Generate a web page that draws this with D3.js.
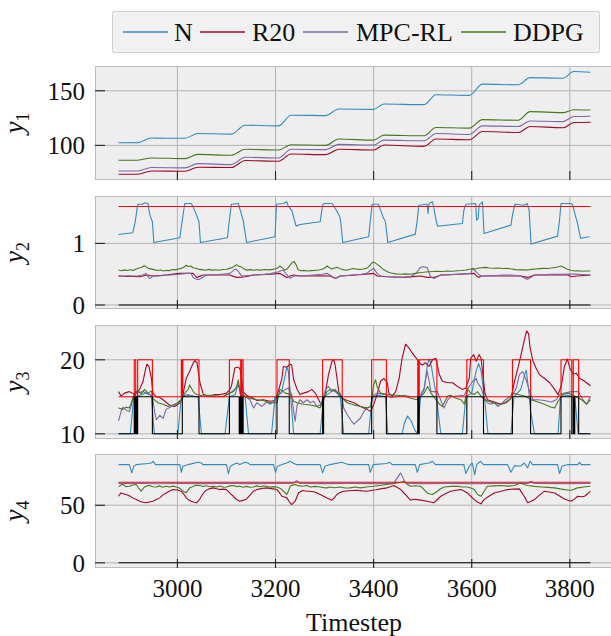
<!DOCTYPE html>
<html>
<head>
<meta charset="utf-8">
<script src="https://cdn.jsdelivr.net/npm/d3@7"></script>
<style>
body { margin: 0; background: #fff; }
svg { display: block; font-family: "Liberation Serif", "DejaVu Serif", serif; }
</style>
</head>
<body>
<svg width="611" height="636"></svg>
<script>
// ---------------- data ----------------
var legendNames = ["N", "R20", "MPC-RL", "DDPG"];
var xTicks = [3000, 3200, 3400, 3600, 3800];
var tStart = 2880, tEnd = 3842;

// y1: staircase breakpoints shared by all series
var y1T = [2880, 2919, 2947, 3015, 3042, 3110, 3138, 3206, 3232, 3302, 3329, 3400, 3421, 3503, 3527, 3595, 3622, 3695, 3719, 3786, 3808, 3842];
var y1N = [102.4, 102.5, 106.7, 106.5, 110.9, 110.3, 118.5, 117.9, 127.6, 127.3, 133.3, 133, 137.9, 137.3, 146.4, 145.8, 156.1, 155.5, 162.1, 161.5, 167.6, 167];
var y1R20 = [73.6, 73.6, 76.6, 76.3, 80, 79.7, 86.1, 85.5, 92.1, 91.5, 96.4, 95.8, 100.3, 99.1, 105.8, 105.2, 112.7, 111.8, 117.3, 116.1, 120.9, 121.2];
var y1MPC = [76.6, 76.6, 79.7, 79.4, 83.3, 82.4, 89.1, 88.5, 96.4, 96.1, 100.9, 100.3, 104.8, 104.2, 110.9, 110, 117.9, 117.3, 122.4, 121.8, 126.4, 126.7];
var y1DDPG = [86.4, 86.4, 88.5, 87.9, 91.8, 90.9, 96.4, 95.8, 100.6, 100, 105.8, 104.8, 109.4, 108.8, 116.4, 115.8, 123.6, 123, 130.9, 130, 132.7, 132.4];

// y2
var y2N = [[2880,1.146],[2909,1.172],[2914,1.351],[2919,1.637],[2929,1.637],[2933,1.659],[2940,1.648],[2942,1.540],[2944,1.459],[2949,1.351],[2952,1.016],[3005,1.091],[3008,1.270],[3015,1.648],[3028,1.648],[3032,1.594],[3039,1.459],[3044,1.351],[3047,1.016],[3102,1.091],[3105,1.324],[3110,1.637],[3124,1.648],[3127,1.567],[3134,1.378],[3141,1.016],[3199,1.108],[3202,1.637],[3216,1.648],[3223,1.675],[3226,1.605],[3233,1.540],[3242,1.280],[3250,1.307],[3291,1.351],[3296,1.621],[3299,1.648],[3315,1.648],[3318,1.621],[3324,1.540],[3331,1.432],[3333,1.351],[3337,1.016],[3390,1.108],[3393,1.351],[3397,1.637],[3410,1.637],[3414,1.540],[3419,1.432],[3424,1.351],[3429,1.016],[3485,1.151],[3489,1.378],[3492,1.621],[3509,1.637],[3511,1.486],[3513,1.648],[3520,1.675],[3523,1.567],[3526,1.432],[3530,1.280],[3581,1.324],[3584,1.540],[3588,1.637],[3608,1.648],[3610,1.378],[3613,1.400],[3615,1.621],[3622,1.675],[3625,1.162],[3680,1.297],[3683,1.459],[3688,1.637],[3707,1.621],[3713,1.648],[3717,1.540],[3721,0.989],[3775,1.118],[3779,1.378],[3782,1.648],[3803,1.648],[3806,1.621],[3811,1.459],[3815,1.351],[3822,1.081],[3827,1.091],[3840,1.108]];
var y2R20 = [[2880,.470],[2895,.465],[2910,.462],[2923,.459],[2930,.472],[2936,.486],[2943,.478],[2950,.470],[2965,.480],[2980,.490],[2995,.505],[3005,.513],[3018,.515],[3032,.513],[3036,.475],[3039,.448],[3045,.465],[3052,.486],[3070,.488],[3090,.486],[3107,.486],[3114,.465],[3121,.448],[3130,.452],[3138,.459],[3146,.470],[3155,.486],[3170,.492],[3190,.500],[3209,.513],[3216,.480],[3223,.448],[3230,.470],[3237,.486],[3250,.470],[3270,.472],[3290,.475],[3311,.470],[3317,.450],[3322,.432],[3332,.470],[3350,.480],[3370,.490],[3390,.505],[3400,.513],[3407,.470],[3428,.459],[3445,.455],[3462,.448],[3480,.460],[3496,.470],[3509,.448],[3523,.448],[3537,.486],[3555,.492],[3575,.500],[3595,.508],[3605,.513],[3610,.470],[3615,.448],[3619,.470],[3640,.472],[3660,.472],[3680,.470],[3700,.470],[3714,.448],[3728,.486],[3750,.488],[3775,.490],[3796,.486],[3803,.459],[3815,.470],[3830,.480],[3842,.486]];
var y2MPC = [[2880,.470],[2890,.468],[2900,.474],[2910,.470],[2920,.476],[2929,.486],[2936,.513],[2940,.470],[2943,.432],[2947,.445],[2950,.470],[2960,.472],[2972,.478],[2985,.486],[2998,.495],[3010,.505],[3018,.513],[3028,.513],[3032,.448],[3038,.420],[3045,.416],[3052,.450],[3059,.486],[3070,.490],[3085,.495],[3100,.505],[3107,.513],[3112,.545],[3116,.575],[3120,.580],[3124,.545],[3131,.470],[3145,.480],[3160,.490],[3175,.498],[3190,.510],[3206,.540],[3212,.560],[3216,.567],[3222,.500],[3230,.432],[3237,.470],[3250,.470],[3265,.480],[3280,.490],[3295,.500],[3305,.513],[3311,.486],[3318,.450],[3322,.432],[3332,.470],[3345,.480],[3360,.490],[3375,.500],[3386,.513],[3393,.560],[3400,.594],[3407,.513],[3414,.470],[3425,.462],[3436,.455],[3448,.448],[3462,.452],[3475,.459],[3487,.520],[3494,.600],[3499,.622],[3509,.611],[3516,.459],[3523,.432],[3530,.460],[3537,.486],[3550,.492],[3565,.498],[3580,.505],[3592,.510],[3598,.513],[3601,.594],[3606,.560],[3612,.513],[3619,.470],[3632,.475],[3648,.480],[3665,.485],[3680,.488],[3690,.478],[3700,.470],[3707,.440],[3714,.416],[3721,.450],[3728,.486],[3745,.492],[3762,.498],[3780,.500],[3796,.502],[3810,.502],[3825,.495],[3842,.486]];
var y2DDPG = [[2880,.567],[2886,.556],[2892,.570],[2898,.560],[2904,.572],[2910,.562],[2916,.585],[2922,.600],[2927,.612],[2932,.640],[2937,.615],[2942,.590],[2948,.582],[2954,.570],[2960,.560],[2966,.568],[2972,.552],[2978,.563],[2984,.558],[2990,.575],[2996,.570],[3002,.585],[3008,.595],[3013,.612],[3018,.645],[3022,.625],[3027,.632],[3032,.605],[3038,.598],[3044,.578],[3050,.575],[3057,.565],[3064,.578],[3071,.566],[3078,.572],[3085,.565],[3092,.576],[3100,.580],[3106,.595],[3112,.610],[3118,.640],[3121,.652],[3125,.628],[3130,.620],[3135,.590],[3141,.567],[3148,.575],[3155,.565],[3162,.573],[3170,.567],[3178,.576],[3186,.570],[3194,.578],[3201,.590],[3206,.612],[3209,.633],[3214,.602],[3219,.570],[3224,.590],[3229,.640],[3234,.690],[3238,.708],[3242,.655],[3246,.572],[3252,.555],[3258,.562],[3265,.552],[3272,.558],[3280,.562],[3288,.568],[3295,.580],[3300,.600],[3305,.633],[3310,.605],[3315,.585],[3320,.600],[3326,.611],[3332,.588],[3340,.570],[3346,.567],[3352,.580],[3359,.594],[3366,.580],[3373,.578],[3380,.585],[3387,.600],[3393,.650],[3398,.695],[3403,.685],[3408,.655],[3414,.620],[3420,.575],[3428,.540],[3436,.520],[3445,.505],[3455,.500],[3465,.505],[3475,.500],[3483,.512],[3490,.522],[3498,.528],[3506,.536],[3514,.540],[3522,.545],[3530,.548],[3540,.545],[3550,.552],[3560,.548],[3571,.555],[3580,.560],[3588,.568],[3596,.580],[3602,.594],[3608,.585],[3614,.600],[3620,.605],[3628,.611],[3636,.600],[3645,.596],[3655,.600],[3665,.592],[3673,.594],[3682,.585],[3690,.575],[3698,.570],[3706,.572],[3714,.567],[3722,.578],[3730,.585],[3738,.590],[3746,.594],[3754,.592],[3762,.600],[3770,.610],[3777,.620],[3782,.633],[3788,.610],[3795,.580],[3802,.565],[3810,.551],[3818,.556],[3826,.548],[3834,.553],[3842,.551]];
var y2Upper = 1.6, y2Lower = 0;

// y3
var y3N = [[2880,10],[2904,10],[2911,15],[2925,15.2],[2935,15.5],[2945,15.3],[2947,15],[2953,10],[3001,10],[3008,15],[3020,15.3],[3035,15],[3042,15],[3049,10],[3097,10],[3106,15],[3118,15.3],[3124,16.9],[3128,15.3],[3138,15],[3145,10],[3192,10],[3199,15],[3212,15.5],[3220,18],[3223,19],[3226,18.5],[3231,15],[3237,10],[3291,10],[3298,15],[3310,15.5],[3318,16],[3325,15.5],[3332,15],[3339,10],[3390,10],[3397,15],[3410,15.2],[3424,15],[3429,10],[3458,10],[3463,11.5],[3469,12.4],[3476,11.8],[3484,10.5],[3489,10],[3496,15],[3503,16],[3510,19.5],[3514,20.1],[3518,19],[3523,17],[3527,15.5],[3537,10],[3581,10],[3588,15],[3600,15.5],[3609,18.5],[3614,19.5],[3619,18.5],[3626,15],[3633,10],[3680,10],[3686,15],[3700,16],[3708,18],[3711,18.6],[3716,16],[3720,13],[3728,10],[3776,10],[3781,15],[3795,15.2],[3810,15],[3817,10],[3842,10]];
var y3R20 = [[2880,15.7],[2885,15.1],[2892,15.5],[2902,15.7],[2913,15.3],[2923,16],[2930,17.1],[2935,18.7],[2938,19.4],[2942,19.1],[2947,17.5],[2950,15.5],[2957,15],[2964,14.9],[2971,14.6],[2978,14.2],[2984,13.9],[2994,13.7],[3000,13.9],[3005,14.2],[3010,14.8],[3014,16.2],[3018,17.5],[3024,18.3],[3029,19.1],[3035,19.9],[3040,19.6],[3043,18.2],[3046,16.9],[3053,15.3],[3060,15.2],[3066,15.1],[3076,15.3],[3087,15.3],[3094,15.4],[3100,15.5],[3106,15.9],[3110,16.4],[3114,17.8],[3117,18.9],[3121,19],[3124,19],[3127,18.8],[3129,18.4],[3134,15.7],[3141,15.2],[3148,15],[3155,14.8],[3162,14.5],[3175,14.6],[3189,14.4],[3199,14.5],[3206,15.8],[3213,17.5],[3216,19.1],[3223,19],[3230,19.4],[3233,19.3],[3237,17.3],[3244,16],[3250,15.3],[3257,15.5],[3267,15.7],[3274,16],[3281,15.5],[3288,14.6],[3295,13.7],[3302,15.7],[3308,18],[3315,19.8],[3319,20],[3322,19.1],[3329,15.7],[3336,14.8],[3346,14.5],[3360,14.2],[3373,13.7],[3387,13.3],[3394,13],[3400,13.9],[3407,15.3],[3414,17.1],[3421,17.5],[3428,16.9],[3431,15.5],[3438,15.1],[3445,15.7],[3452,17.5],[3458,20.2],[3465,22.1],[3472,21.6],[3479,20.9],[3486,20.3],[3493,19.6],[3499,19.3],[3506,19.6],[3513,19.1],[3520,20],[3527,20.2],[3534,18],[3540,17.1],[3551,16.9],[3561,16.9],[3571,16.4],[3581,16],[3588,16.2],[3595,17.5],[3598,20.2],[3604,20.7],[3609,19.8],[3615,20.7],[3619,20.2],[3622,18.4],[3627,15.5],[3632,14.6],[3646,14.3],[3660,14],[3670,14.2],[3680,14.8],[3688,17.3],[3695,19.1],[3702,21.1],[3708,22.9],[3712,23.9],[3716,23.5],[3719,21.6],[3725,19.8],[3731,18.9],[3738,18],[3748,17.5],[3759,16.9],[3769,16],[3776,15.3],[3783,16.6],[3789,19.1],[3795,20.1],[3800,18.9],[3807,18],[3813,18.2],[3820,17.5],[3830,17.1],[3842,16.5]];
var y3MPC = [[2880,11.7],[2885,13],[2889,13.6],[2896,13.2],[2902,13],[2906,13.8],[2909,15],[2916,15.5],[2930,15.7],[2943,15.3],[2949,15],[2954,12.8],[2957,11.9],[2964,12.5],[2971,12.1],[2977,13.3],[2988,13.7],[2998,14],[3008,14.6],[3012,15],[3025,15.2],[3039,15],[3053,15.1],[3066,15],[3093,15],[3107,15.5],[3117,16],[3124,16.5],[3131,15.8],[3134,15.3],[3148,14.6],[3155,13.5],[3162,14.2],[3172,13.7],[3182,14.3],[3189,14],[3199,14.5],[3203,15],[3213,15.7],[3226,16.2],[3233,15.3],[3237,13],[3240,11.7],[3244,13.9],[3250,14.6],[3257,14.2],[3264,14.6],[3271,14.2],[3278,14.4],[3284,13.7],[3291,13.9],[3297,14.8],[3302,16],[3308,16.4],[3315,15.7],[3322,16],[3329,15.3],[3336,14.8],[3339,13.5],[3346,12.6],[3353,11.9],[3360,11.3],[3366,11.7],[3373,12.1],[3380,13],[3387,13.5],[3394,13.7],[3397,14.6],[3400,15.2],[3407,15.5],[3424,15.3],[3435,14.9],[3448,15],[3462,15.2],[3476,15],[3489,15],[3496,15.3],[3503,16.2],[3509,18.5],[3513,17.2],[3517,15.7],[3530,15.7],[3534,15],[3540,14],[3544,13.5],[3551,14.6],[3557,15],[3571,15.1],[3585,15.2],[3588,15.7],[3595,16.4],[3602,17.1],[3609,17.5],[3612,16.9],[3619,16.2],[3626,14.8],[3632,14.2],[3639,14],[3646,14.2],[3653,13.7],[3660,14],[3667,14.5],[3677,15],[3684,15.3],[3691,16.2],[3697,18],[3704,18.4],[3711,17.3],[3718,15.7],[3725,14.6],[3735,14.6],[3748,14.5],[3762,14.3],[3772,14.6],[3779,15.3],[3789,15.5],[3803,15.7],[3817,15.7],[3827,14.6],[3834,14],[3842,15]];
var y3DDPG = [[2880,13.5],[2889,13.3],[2895,13.6],[2902,13.5],[2908,14.5],[2913,15.5],[2919,15.9],[2926,15.4],[2933,16],[2940,15.5],[2947,15.8],[2950,14.8],[2960,14.2],[2971,14],[2981,13.7],[2991,13.9],[3001,14.2],[3008,14.6],[3015,15.5],[3022,16],[3025,16.6],[3032,15.7],[3039,15.3],[3053,15.1],[3066,15.2],[3080,15.1],[3093,15],[3107,15.5],[3114,15.7],[3121,16.4],[3124,17.3],[3128,15.7],[3134,15.1],[3148,14.8],[3162,14.6],[3175,14.5],[3189,14.2],[3203,14.2],[3206,15.1],[3209,16],[3220,15.5],[3230,15.3],[3237,14.4],[3244,14.2],[3257,14],[3271,13.9],[3284,13.7],[3291,13.5],[3298,14.8],[3305,15.7],[3312,16],[3322,15.7],[3329,15.5],[3336,14.8],[3346,14.2],[3360,13.9],[3373,13.7],[3387,13.5],[3394,13.7],[3397,15.1],[3400,16.6],[3404,17.3],[3407,16.4],[3414,15.5],[3428,15.3],[3448,15.2],[3462,15.1],[3476,14.8],[3489,14.6],[3503,15.5],[3510,16.4],[3517,15.5],[3527,14.6],[3534,14],[3540,13.7],[3551,15.1],[3557,15.2],[3568,14.8],[3578,14.6],[3585,14],[3588,15.1],[3592,16],[3598,15.5],[3605,15.3],[3612,15.7],[3619,15.1],[3626,14.6],[3639,14.3],[3653,14],[3667,14.2],[3677,14.6],[3684,15.5],[3694,15.3],[3708,15.1],[3721,14.6],[3735,14.3],[3748,14],[3762,13.6],[3769,13.5],[3776,14.4],[3786,15.3],[3796,15.5],[3810,15.1],[3824,14.6],[3834,14],[3842,14.6]];
// comfort band switches (occupied periods)
var occStart = [2912, 2919, 3008, 3011, 3106, 3131, 3203, 3296, 3396, 3490, 3493, 3590, 3683, 3782, 3807];
var occEnd = [2915, 2949, 3009, 3044, 3129, 3134, 3228, 3336, 3426, 3491, 3529, 3624, 3720, 3804, 3818];
var lowStart = [2912, 2914, 2917, 2919, 3010, 3106, 3128, 3132, 3203, 3296, 3298, 3396, 3490, 3493, 3590, 3683, 3782, 3807, 3810];
var lowEnd = [2913, 2915, 2918, 2949, 3044, 3126, 3130, 3134, 3228, 3297, 3336, 3426, 3491, 3529, 3624, 3720, 3804, 3808, 3818];
var y3Band = { upperOff: 15, upperOn: 20, lowerOff: 10, lowerOn: 15 };

// y4
var y4N = [[2880,85.3],[2902,85.3],[2907,78.1],[2911,83.9],[2916,85.3],[2940,86.2],[2947,86.7],[2951,88.2],[2955,85.3],[3005,85.3],[3008,78.6],[3011,83.9],[3022,85.3],[3042,87.3],[3049,86.7],[3052,85.3],[3100,85.3],[3104,77.5],[3108,83.9],[3114,85.3],[3121,86.7],[3127,85.3],[3138,87.3],[3144,86.7],[3148,85.3],[3196,85.3],[3200,78.6],[3204,83.9],[3213,85.3],[3223,86.7],[3230,88.2],[3237,86.2],[3243,85.3],[3291,85.3],[3296,78.1],[3301,83.9],[3311,85.3],[3335,87.3],[3342,86.2],[3349,85.3],[3390,85.3],[3393,78.6],[3399,85.3],[3427,86.2],[3433,87.3],[3438,85.3],[3485,85.3],[3489,78.6],[3494,85.3],[3506,86.2],[3513,86.7],[3520,88.2],[3526,85.3],[3584,85.3],[3588,77.5],[3595,83.9],[3601,86.7],[3606,76.6],[3610,85.3],[3618,88.2],[3624,85.3],[3673,85.3],[3680,78.6],[3687,84.4],[3700,83.9],[3707,86.7],[3714,82.4],[3719,88.2],[3724,85.3],[3775,85.3],[3779,77.5],[3784,83.9],[3796,85.3],[3816,85.3],[3820,87.3],[3823,85.3],[3842,85.3]];
var y4R20 = [[2880,57.8],[2885,60.7],[2895,59.3],[2902,58.2],[2909,56.4],[2916,55],[2923,53.5],[2930,52.6],[2936,52.1],[2943,52.8],[2950,53.5],[2957,55],[2964,56.4],[2970,58.8],[2977,60.7],[2984,62.4],[2991,63.6],[3000,63.2],[3008,62.2],[3013,59.5],[3018,56.4],[3023,54.6],[3028,53.5],[3034,52.6],[3039,52.1],[3045,54.9],[3050,58.6],[3056,62.2],[3064,64.2],[3073,65.1],[3080,64.3],[3086,63.6],[3093,64],[3100,63.6],[3107,60.5],[3114,57.8],[3120,55.2],[3127,53.5],[3134,54.2],[3141,55.5],[3148,58.8],[3155,62.2],[3162,63.6],[3168,64.2],[3175,64.8],[3182,65.1],[3192,64.4],[3203,63.6],[3208,61],[3213,57.8],[3218,57.2],[3223,56.4],[3228,53],[3233,50.6],[3240,53.5],[3247,60.7],[3255,62.8],[3264,62.2],[3271,62.2],[3280,61.5],[3290,59.5],[3298,57.8],[3306,56],[3315,54.4],[3320,56.5],[3325,59.3],[3332,61],[3339,62.2],[3350,62.6],[3366,63],[3377,62.5],[3387,62.2],[3397,63],[3405,63.4],[3414,64.2],[3427,65.1],[3434,66],[3441,67.1],[3448,65.5],[3455,63.6],[3460,61.5],[3465,59.3],[3470,56.8],[3475,54.4],[3482,55.2],[3489,54.9],[3499,54.2],[3509,53.5],[3516,52.8],[3523,52.1],[3530,55],[3537,57.8],[3547,60.2],[3557,62.2],[3567,63],[3578,63.6],[3585,62.2],[3591,60.7],[3598,57.8],[3605,54.9],[3612,52.6],[3619,51.2],[3625,54.9],[3635,57.8],[3646,60.7],[3660,62.2],[3673,63.6],[3685,64],[3697,64.2],[3702,61],[3707,57.8],[3711,54.5],[3714,52.1],[3721,53.5],[3728,54.9],[3738,58.8],[3748,62.2],[3758,61.5],[3769,60.7],[3779,58],[3789,55.5],[3796,54.4],[3803,53.5],[3810,55.5],[3816,57.8],[3823,57.4],[3830,57.8],[3836,59.8],[3842,62.2]];
var y4MPC = [[2880,68.8],[2920,68.9],[2960,68.7],[3000,68.9],[3050,68.8],[3100,68.9],[3150,68.8],[3200,68.9],[3236,69],[3243,71.4],[3250,68.9],[3300,68.8],[3350,68.9],[3400,68.8],[3441,69],[3455,78.1],[3465,69.2],[3500,68.8],[3550,68.9],[3600,68.8],[3650,68.9],[3715,68.9],[3721,70.8],[3727,68.9],[3780,68.8],[3842,68.9]];
var y4DDPG = [[2880,65.9],[2885,67.5],[2889,68],[2895,66.2],[2902,66.5],[2909,67.6],[2916,68],[2921,65],[2926,62.2],[2933,65.9],[2938,66.8],[2943,67.1],[2950,66.0],[2957,65.9],[2964,66.8],[2970,65.6],[2977,66.5],[2984,65.8],[2991,66.6],[2998,65.9],[3003,65.2],[3008,63.6],[3013,62],[3018,60.7],[3025,65.1],[3032,66.2],[3038,67.3],[3045,67.1],[3052,66.3],[3059,67],[3066,66.1],[3073,66.5],[3080,65.8],[3087,66.7],[3094,65.6],[3100,65.9],[3107,66.8],[3114,67.1],[3120,66.2],[3127,66.5],[3134,65.7],[3141,66.4],[3148,65.6],[3155,65.9],[3162,66.8],[3168,66.0],[3175,66.6],[3182,66.5],[3189,65.7],[3196,66.2],[3203,65.9],[3208,65],[3213,63.6],[3218,61.5],[3223,59.3],[3227,63],[3230,66.5],[3235,67.5],[3240,68],[3247,67],[3255,66.5],[3264,67.1],[3271,65.9],[3280,66.4],[3291,65.9],[3298,65.3],[3305,65.1],[3312,65.9],[3320,65.2],[3332,65.9],[3342,65.0],[3352,65.1],[3362,65.8],[3373,65.1],[3385,65.9],[3400,66.5],[3412,67.2],[3427,68],[3438,68.6],[3448,69.4],[3456,70],[3462,70.8],[3468,68.5],[3475,66.5],[3485,66.9],[3496,66.5],[3502,64],[3509,60.7],[3515,59.8],[3520,59.3],[3530,62.2],[3537,64.5],[3544,65.9],[3557,66.4],[3571,66.5],[3580,65.8],[3591,65.9],[3598,65],[3605,63.6],[3612,59.3],[3619,57.8],[3624,61.3],[3632,66.5],[3645,66.8],[3660,67.1],[3673,66.6],[3687,67.1],[3694,68.5],[3700,69.4],[3707,68],[3714,67.1],[3728,66.4],[3742,65.9],[3755,65.5],[3769,65.1],[3780,64.2],[3789,63.6],[3796,63.3],[3803,63],[3810,64.2],[3816,65.1],[3828,65.8],[3842,66.5]];
var y4Upper = 70, y4Lower = 0;

// ---------------- helpers ----------------
var colours = { N: "#348ABD", R20: "#A60628", MPC: "#7A68A6", DDPG: "#467821", upper: "#ff0000", lower: "#000000" };

function zipT(ts, vs) { return ts.map(function (t, i) { return [t, vs[i]]; }); }
function flat(v) { return [[tStart, v], [tEnd, v]]; }
// step signal that switches between off / on levels
function band(starts, ends, off, on) {
    var pts = [[tStart, off]];
    starts.forEach(function (s, i) {
        pts.push([s, off], [s, on], [ends[i], on], [ends[i], off]);
    });
    pts.push([tEnd, off]);
    return pts;
}

var svg = d3.select("svg");
var x = d3.scaleLinear().domain([2832, 3888]).range([95, 613]);

var panels = [
    { sub: "1", top: 66, bottom: 180, domain: [68.3, 172.7], ticks: [100, 150], smooth: true,
      series: [[zipT(y1T, y1N), colours.N], [zipT(y1T, y1R20), colours.R20], [zipT(y1T, y1MPC), colours.MPC], [zipT(y1T, y1DDPG), colours.DDPG]] },
    { sub: "2", top: 196, bottom: 309, domain: [-0.065, 1.77], ticks: [0, 1],
      series: [[y2N, colours.N], [y2R20, colours.R20], [y2MPC, colours.MPC], [y2DDPG, colours.DDPG], [flat(y2Upper), colours.upper], [flat(y2Lower), colours.lower]] },
    { sub: "3", top: 325, bottom: 439, domain: [9.3, 24.7], ticks: [10, 20],
      series: [[y3N, colours.N], [y3R20, colours.R20], [y3MPC, colours.MPC], [y3DDPG, colours.DDPG],
               [band(occStart, occEnd, y3Band.upperOff, y3Band.upperOn), colours.upper],
               [band(lowStart, lowEnd, y3Band.lowerOff, y3Band.lowerOn), colours.lower]] },
    { sub: "4", top: 454, bottom: 568, domain: [-4.5, 94.5], ticks: [0, 50],
      series: [[y4N, colours.N], [y4R20, colours.R20], [y4MPC, colours.MPC], [y4DDPG, colours.DDPG], [flat(y4Upper), colours.upper], [flat(y4Lower), colours.lower]] }
];

var defs = svg.append("defs");

panels.forEach(function (p, i) {
    var y = d3.scaleLinear().domain(p.domain).range([p.bottom, p.top]);
    var g = svg.append("g").attr("class", "panel");
    var left = 95, right = 613;

    defs.append("clipPath").attr("id", "clip" + i)
        .append("rect").attr("x", left).attr("y", p.top).attr("width", right - left).attr("height", p.bottom - p.top);

    // background
    g.append("rect").attr("x", left).attr("y", p.top).attr("width", right - left).attr("height", p.bottom - p.top)
        .attr("fill", "#eeeeee");

    // grid
    g.selectAll(".vgrid").data(xTicks).enter().append("line")
        .attr("x1", function (d) { return x(d); }).attr("x2", function (d) { return x(d); })
        .attr("y1", p.top).attr("y2", p.bottom)
        .attr("stroke", "#b2b2b2").attr("stroke-width", 1);
    g.selectAll(".hgrid").data(p.ticks).enter().append("line")
        .attr("x1", left).attr("x2", right)
        .attr("y1", function (d) { return y(d); }).attr("y2", function (d) { return y(d); })
        .attr("stroke", "#b2b2b2").attr("stroke-width", 1);

    // lines
    var line = d3.line()
        .x(function (d) { return x(d[0]); })
        .y(function (d) { return y(d[1]); })
        .curve(p.smooth ? d3.curveMonotoneX : d3.curveLinear);
    g.append("g").attr("clip-path", "url(#clip" + i + ")")
        .selectAll("path").data(p.series).enter().append("path")
        .attr("d", function (d) { return line(d[0]); })
        .attr("fill", "none")
        .attr("stroke", function (d) { return d[1]; })
        .attr("stroke-width", 1.1)
        .attr("stroke-linejoin", "round");

    // frame
    g.append("rect").attr("x", left + 0.5).attr("y", p.top + 0.5).attr("width", right - left).attr("height", p.bottom - p.top - 1)
        .attr("fill", "none").attr("stroke", "#bcbcbc").attr("stroke-width", 1);

    // ticks (inside)
    g.selectAll(".xtick").data(xTicks).enter().append("line")
        .attr("x1", function (d) { return x(d); }).attr("x2", function (d) { return x(d); })
        .attr("y1", p.bottom).attr("y2", p.bottom - 9)
        .attr("stroke", "#222").attr("stroke-width", 1.1);
    g.selectAll(".ytick").data(p.ticks).enter().append("line")
        .attr("x1", left).attr("x2", left + 10)
        .attr("y1", function (d) { return y(d); }).attr("y2", function (d) { return y(d); })
        .attr("stroke", "#222").attr("stroke-width", 1.1);
    g.selectAll(".ylab").data(p.ticks).enter().append("text")
        .attr("x", 85).attr("y", function (d) { return y(d); })
        .attr("dy", "0.36em").attr("text-anchor", "end")
        .attr("font-size", 25).attr("fill", "#111")
        .text(function (d) { return d; });

    // axis label y_i
    var cy = (p.top + p.bottom) / 2;
    var lab = g.append("text")
        .attr("transform", "translate(23," + cy + ") rotate(-90)")
        .attr("text-anchor", "middle").attr("font-size", 27).attr("fill", "#111");
    lab.append("tspan").attr("font-style", "italic").text("y");
    lab.append("tspan").attr("font-size", 18).attr("dy", 6).text(p.sub);

    if (i === panels.length - 1) {
        g.selectAll(".xlab").data(xTicks).enter().append("text")
            .attr("x", function (d) { return x(d); }).attr("y", p.bottom + 29)
            .attr("text-anchor", "middle").attr("font-size", 25).attr("fill", "#111")
            .text(function (d) { return d; });
        g.append("text").attr("x", 354).attr("y", 631)
            .attr("text-anchor", "middle").attr("font-size", 26).attr("fill", "#111")
            .text("Timestep");
    }
});

// legend
var legend = svg.append("g").attr("class", "legend");
legend.append("rect").attr("x", 112.5).attr("y", 11.5).attr("width", 487).attr("height", 41).attr("rx", 2)
    .attr("fill", "#f1f1f1").attr("stroke", "#d0d0d0");
var legendColours = [colours.N, colours.R20, colours.MPC, colours.DDPG];
var legendX = [123, 200, 303, 461];
var legendTextX = [174, 252, 356, 513];
legendNames.forEach(function (name, i) {
    legend.append("line").attr("x1", legendX[i]).attr("x2", legendX[i] + 45)
        .attr("y1", 32).attr("y2", 32)
        .attr("stroke", legendColours[i]).attr("stroke-width", 1.5);
    legend.append("text").attr("x", legendTextX[i]).attr("y", 41)
        .attr("font-size", 26).attr("fill", "#111").text(name);
});
</script>
</body>
</html>
